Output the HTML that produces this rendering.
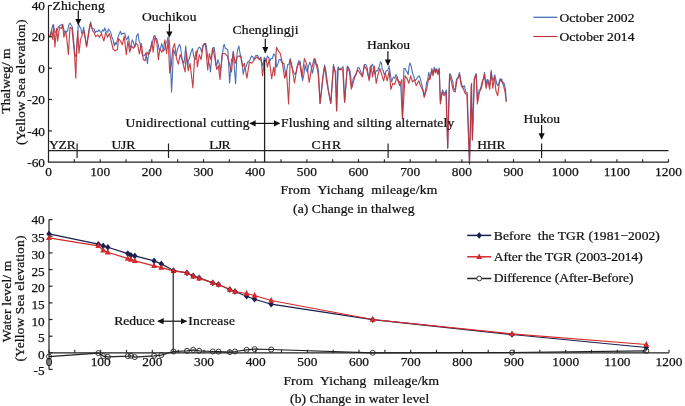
<!DOCTYPE html><html><head><meta charset="utf-8"><style>html,body{margin:0;padding:0;background:#fff;width:685px;height:406px;overflow:hidden}svg{display:block;will-change:transform}text{font-family:"Liberation Serif",serif;fill:#111;stroke:#111;stroke-width:0.25px;white-space:pre}</style></head><body>
<svg width="685" height="406" viewBox="0 0 685 406">
<defs><marker id="ah" viewBox="0 0 10 10" refX="9" refY="5" markerWidth="5.6" markerHeight="5.2" orient="auto-start-reverse"><path d="M0,0 L10,5 L0,10 z" fill="#111"/></marker></defs>
<polyline points="49.0,35.3 50.3,35.3 51.5,29.8 52.8,24.9 54.0,28.9 55.2,32.2 56.8,32.0 58.3,26.7 60.5,25.2 62.6,24.2 63.5,28.2 64.5,32.2 66.0,32.1 67.5,31.0 68.8,25.1 70.0,23.0 71.2,25.2 72.5,27.3 73.7,41.2 74.8,53.5 75.7,56.3 76.5,55.6 77.4,37.8 78.3,24.9 79.1,24.9 79.9,27.3 80.8,27.9 81.7,33.5 82.7,32.3 83.6,27.3 85.1,37.7 86.6,45.8 88.7,31.1 90.7,21.9 91.8,28.1 92.8,28.5 94.0,28.7 95.2,32.7 96.5,31.2 97.7,31.5 98.9,29.9 100.2,31.8 101.4,32.4 102.7,29.7 103.9,31.2 104.8,27.9 105.7,30.5 106.7,31.6 107.6,32.4 108.5,28.8 109.4,30.5 110.7,32.0 111.9,37.3 113.1,40.1 114.3,45.9 115.2,42.5 116.2,44.7 117.1,40.8 118.0,37.3 119.2,33.9 120.5,31.2 121.4,34.5 122.3,33.6 123.5,33.4 124.8,33.0 125.7,37.2 126.6,39.8 127.5,37.9 128.5,36.1 129.4,43.8 130.3,49.6 131.2,44.4 132.2,39.8 133.4,42.2 134.7,47.2 135.6,44.6 136.5,36.1 138.1,33.6 139.1,41.5 140.2,43.5 141.4,51.7 142.7,55.8 144.2,55.8 145.7,53.3 146.6,57.3 147.4,63.6 148.4,55.0 149.4,49.6 150.0,50.9 151.2,45.3 152.5,42.3 153.7,36.3 154.9,35.5 155.9,38.6 156.8,38.6 158.0,43.6 159.2,49.7 160.4,48.7 161.7,43.6 162.6,46.6 163.6,50.9 164.8,49.3 166.0,42.3 166.9,41.9 167.9,37.4 168.8,38.1 169.7,44.8 170.6,66.7 171.6,92.0 172.5,73.3 173.4,49.7 174.4,52.0 175.3,54.6 176.2,55.6 177.1,50.9 178.3,46.9 179.6,44.2 180.8,48.7 182.0,58.3 182.9,61.6 183.9,63.3 184.8,56.3 185.7,46.0 186.6,55.1 187.6,67.0 188.5,60.2 189.4,58.3 190.9,52.4 192.5,48.5 193.8,56.8 195.0,59.6 195.9,58.6 196.8,54.6 198.1,48.6 199.3,47.2 200.5,48.2 201.7,52.2 202.9,45.5 204.2,43.6 205.0,43.6 205.9,44.1 206.8,49.8 207.8,57.7 208.7,62.1 209.6,65.1 210.5,72.0 211.4,60.7 212.4,48.6 213.3,47.6 214.2,47.3 215.1,54.7 216.1,65.8 217.0,64.1 217.9,59.6 219.2,63.6 220.4,72.0 221.9,59.6 223.5,45.5 224.4,44.7 225.3,48.6 226.6,48.7 227.8,49.8 228.7,64.7 229.6,83.0 230.6,69.9 231.5,59.6 232.4,58.1 233.3,51.0 234.4,69.2 235.6,83.7 237.0,53.5 237.9,48.6 238.9,46.1 240.1,54.0 241.3,57.2 242.2,64.1 243.2,74.4 244.1,70.1 245.0,67.0 246.2,66.7 247.5,62.1 248.8,61.7 250.0,59.6 251.5,56.0 253.0,57.2 254.2,59.5 255.5,55.9 257.4,55.4 259.2,58.4 261.0,60.6 262.9,65.8 264.3,57.2 265.5,61.0 266.4,60.1 267.4,56.0 268.6,57.5 269.9,61.0 271.1,58.5 272.3,58.5 273.6,54.1 274.8,54.8 275.7,58.5 276.6,67.1 277.9,63.9 279.1,59.7 280.4,59.4 281.6,62.2 282.8,63.4 284.0,63.4 284.9,69.4 285.9,77.0 286.8,70.5 287.7,64.6 288.9,64.3 290.2,58.5 291.4,64.0 292.6,69.6 293.9,72.5 295.1,74.5 296.4,71.7 297.6,64.6 298.8,60.9 300.0,61.0 301.2,68.8 302.5,80.7 303.8,75.1 305.0,64.6 306.2,70.2 307.4,72.0 308.6,65.6 309.9,62.2 311.1,65.9 312.4,73.3 313.6,67.9 314.8,59.7 316.1,64.8 317.3,64.6 318.5,71.2 320.1,103.4 323.4,74.0 324.6,65.0 325.9,70.6 327.1,79.9 328.3,89.0 330.8,103.4 333.5,64.5 334.6,70.5 335.7,71.1 336.6,110.8 338.2,66.9 339.4,69.8 340.7,68.2 341.9,68.0 343.1,66.6 344.6,102.2 347.3,66.0 348.6,67.7 349.9,70.4 350.8,76.6 351.7,87.5 353.2,78.8 354.8,75.7 356.3,74.4 357.9,67.6 359.1,67.7 360.4,70.9 361.6,74.2 362.8,75.0 364.3,64.5 365.7,64.5 367.1,67.4 368.3,75.2 369.6,79.0 370.0,67.2 371.2,66.3 372.5,64.2 373.7,68.2 374.9,74.6 376.1,70.8 377.4,70.9 378.9,67.6 380.5,61.7 381.4,63.1 382.3,69.7 383.2,70.5 384.2,74.6 385.4,72.8 386.6,70.3 387.9,70.3 389.1,66.0 390.4,74.7 391.6,82.0 392.8,78.2 394.0,77.1 394.9,78.4 395.9,74.6 397.1,76.5 398.3,82.0 399.6,81.6 400.8,87.0 402.3,117.7 403.9,68.5 405.1,68.3 406.3,70.9 407.2,72.4 408.2,74.6 409.1,66.1 410.0,62.9 411.2,66.2 412.5,73.4 413.8,76.3 415.0,80.8 416.5,79.1 418.0,76.5 419.2,75.8 420.5,79.6 422.4,86.8 424.2,95.6 425.4,91.1 426.7,82.0 427.7,80.0 428.7,72.2 429.9,78.0 430.9,74.2 431.8,68.6 433.0,73.5 434.2,67.3 435.5,70.5 436.7,68.6 437.9,73.0 439.2,68.0 440.4,101.8 442.6,89.8 443.5,92.7 444.5,93.3 445.4,92.1 446.3,90.0 447.7,148.2 449.6,73.7 450.8,74.6 451.9,79.8 452.8,81.4 453.7,88.5 455.2,90.0 456.1,81.4 457.0,78.6 458.2,78.0 459.5,72.5 460.6,79.6 461.7,84.3 462.6,87.9 463.6,86.0 464.5,85.7 465.4,91.1 466.3,92.7 467.3,92.6 469.5,164.0 471.6,83.2 472.4,140.0 474.3,78.4 475.2,75.8 476.2,73.5 477.4,100.0 479.2,90.0 480.1,89.5 481.1,86.3 482.0,81.9 482.9,79.6 483.7,78.9 484.5,72.2 486.0,85.3 486.9,79.9 487.9,79.6 488.8,82.8 489.7,85.5 491.2,70.4 492.0,76.8 492.8,80.3 493.7,79.9 494.6,74.7 495.9,79.7 496.8,84.1 497.7,85.7 498.9,83.3 500.0,78.5 500.9,80.5 501.8,78.9 502.8,83.1 503.7,82.3 504.6,85.1 505.5,89.5 506.3,101.8" fill="none" stroke="#4a70b8" stroke-width="1.1" stroke-linejoin="round"/>
<polyline points="49.0,36.5 50.3,36.5 51.5,31.0 52.8,39.6 53.6,24.9 54.9,47.0 56.5,28.5 57.7,40.9 59.5,27.3 61.4,28.5 62.6,24.9 63.9,37.2 65.7,31.0 66.9,39.6 68.4,54.4 70.0,27.3 71.9,28.5 73.3,42.1 74.6,55.6 75.8,78.2 76.8,44.6 77.8,31.0 79.0,53.2 80.5,39.6 82.3,34.7 84.2,31.0 86.6,47.0 90.3,23.6 92.8,31.0 94.0,32.4 95.8,36.7 97.7,34.9 99.5,37.3 101.4,33.6 103.9,41.0 105.7,32.4 107.6,37.3 109.4,33.6 111.2,41.0 113.1,49.0 115.0,50.9 117.4,49.6 118.6,38.6 120.5,41.0 122.3,44.7 124.2,36.1 126.3,54.6 127.9,41.0 129.7,52.1 131.6,45.9 133.4,48.4 135.9,43.5 137.7,44.7 139.3,54.0 141.4,43.5 143.3,59.5 145.1,60.7 147.0,52.1 148.8,54.6 150.7,49.6 151.9,41.1 153.1,52.2 154.9,37.4 156.8,42.3 158.4,59.6 159.9,48.5 161.7,52.2 163.6,48.5 164.8,39.9 166.6,53.4 168.2,39.9 169.7,73.1 171.2,65.7 172.8,48.5 174.6,43.6 176.5,58.3 178.3,64.2 180.2,54.6 182.0,59.6 185.1,71.9 186.3,52.2 188.2,70.7 190.0,63.3 192.9,87.6 194.4,60.8 196.2,50.9 197.4,67.0 199.3,54.6 201.1,59.6 203.0,46.0 205.4,43.6 207.7,70.0 209.3,53.5 210.9,59.6 213.0,48.6 214.9,58.4 216.7,69.5 218.3,65.8 220.0,79.4 222.2,53.5 224.7,53.5 227.2,55.9 229.0,62.1 231.5,72.0 233.3,52.2 235.2,63.3 237.0,57.2 238.9,55.9 240.7,56.6 242.6,67.0 244.4,63.3 246.9,78.1 249.4,62.1 251.8,63.3 254.3,59.6 256.7,57.2 259.2,59.6 261.1,57.2 262.5,75.7 264.3,62.2 266.2,58.5 267.4,67.1 269.2,59.7 271.7,78.7 273.6,67.1 274.8,75.7 276.4,47.4 278.5,51.1 280.3,53.6 282.2,62.2 284.6,78.2 286.5,70.8 288.6,103.9 290.2,59.7 292.0,67.1 294.5,83.0 297.0,67.1 299.4,62.2 301.9,77.0 304.4,58.5 306.8,64.6 309.2,82.4 311.1,70.8 314.2,58.5 315.5,60.0 316.8,67.2 318.1,73.3 320.1,103.4 323.0,75.8 324.6,66.6 326.7,82.0 328.3,91.0 330.8,103.4 333.5,65.9 335.3,73.3 336.6,110.8 337.8,68.4 340.3,69.6 342.7,69.0 344.6,102.2 347.3,67.2 349.5,72.1 351.3,89.2 354.4,78.3 357.5,69.6 360.0,73.3 362.4,77.0 364.3,65.9 366.7,69.6 369.2,80.6 371.1,65.9 372.5,77.1 374.3,66.0 376.2,83.3 378.0,74.6 379.9,68.5 381.7,74.6 383.6,80.8 385.4,73.4 387.2,80.8 389.1,70.9 390.9,89.4 392.8,83.3 394.6,84.5 397.1,77.1 399.6,85.7 401.8,79.6 402.6,117.7 405.1,75.9 407.0,78.3 408.8,83.3 410.7,75.9 412.5,82.0 414.4,79.6 416.2,85.7 418.7,80.8 420.5,85.7 423.0,90.7 424.2,97.4 426.7,89.4 428.7,78.0 429.9,79.6 431.8,70.0 433.0,76.0 434.2,69.0 435.5,73.0 436.7,70.0 437.9,74.5 439.2,69.5 440.4,103.9 442.2,92.0 444.1,95.7 445.9,92.0 447.7,148.2 449.6,74.7 451.5,82.1 453.3,90.7 455.2,92.0 457.0,79.6 459.5,74.5 461.3,85.8 463.2,88.3 465.0,93.2 466.9,94.4 469.5,164.0 471.2,84.6 472.4,140.0 474.3,79.6 476.1,74.5 477.4,104.0 479.5,92.0 481.4,88.3 482.9,80.6 484.5,74.2 486.0,88.3 487.9,80.6 489.7,89.5 491.2,72.4 492.8,88.3 494.6,76.7 495.9,90.7 497.7,95.7 499.6,80.9 501.4,80.9 503.3,84.6 505.1,92.0 506.3,101.8" fill="none" stroke="#c23238" stroke-width="1.15" stroke-linejoin="round" stroke-opacity="0.92"/>
<path d="M48.5,5.5 V162.2 H668.5" fill="none" stroke="#222" stroke-width="1.2"/>
<line x1="48.5" y1="5.5" x2="52.0" y2="5.5" stroke="#222" stroke-width="1.2"/>
<text transform="translate(45.0,10.1)" font-size="13.3" text-anchor="end">40</text>
<line x1="48.5" y1="36.8" x2="52.0" y2="36.8" stroke="#222" stroke-width="1.2"/>
<text transform="translate(45.0,41.4)" font-size="13.3" text-anchor="end">20</text>
<line x1="48.5" y1="68.2" x2="52.0" y2="68.2" stroke="#222" stroke-width="1.2"/>
<text transform="translate(45.0,72.8)" font-size="13.3" text-anchor="end">0</text>
<line x1="48.5" y1="99.5" x2="52.0" y2="99.5" stroke="#222" stroke-width="1.2"/>
<text transform="translate(45.0,104.1)" font-size="13.3" text-anchor="end">-20</text>
<line x1="48.5" y1="130.9" x2="52.0" y2="130.9" stroke="#222" stroke-width="1.2"/>
<text transform="translate(45.0,135.5)" font-size="13.3" text-anchor="end">-40</text>
<text transform="translate(45.0,166.8)" font-size="13.3" text-anchor="end">-60</text>
<line x1="48.5" y1="162.2" x2="48.5" y2="159.2" stroke="#222" stroke-width="1.1"/>
<line x1="74.3" y1="162.2" x2="74.3" y2="159.2" stroke="#222" stroke-width="1.1"/>
<line x1="100.2" y1="162.2" x2="100.2" y2="159.2" stroke="#222" stroke-width="1.1"/>
<line x1="126.0" y1="162.2" x2="126.0" y2="159.2" stroke="#222" stroke-width="1.1"/>
<line x1="151.8" y1="162.2" x2="151.8" y2="159.2" stroke="#222" stroke-width="1.1"/>
<line x1="177.7" y1="162.2" x2="177.7" y2="159.2" stroke="#222" stroke-width="1.1"/>
<line x1="203.5" y1="162.2" x2="203.5" y2="159.2" stroke="#222" stroke-width="1.1"/>
<line x1="229.3" y1="162.2" x2="229.3" y2="159.2" stroke="#222" stroke-width="1.1"/>
<line x1="255.2" y1="162.2" x2="255.2" y2="159.2" stroke="#222" stroke-width="1.1"/>
<line x1="281.0" y1="162.2" x2="281.0" y2="159.2" stroke="#222" stroke-width="1.1"/>
<line x1="306.9" y1="162.2" x2="306.9" y2="159.2" stroke="#222" stroke-width="1.1"/>
<line x1="332.7" y1="162.2" x2="332.7" y2="159.2" stroke="#222" stroke-width="1.1"/>
<line x1="358.5" y1="162.2" x2="358.5" y2="159.2" stroke="#222" stroke-width="1.1"/>
<line x1="384.4" y1="162.2" x2="384.4" y2="159.2" stroke="#222" stroke-width="1.1"/>
<line x1="410.2" y1="162.2" x2="410.2" y2="159.2" stroke="#222" stroke-width="1.1"/>
<line x1="436.0" y1="162.2" x2="436.0" y2="159.2" stroke="#222" stroke-width="1.1"/>
<line x1="461.9" y1="162.2" x2="461.9" y2="159.2" stroke="#222" stroke-width="1.1"/>
<line x1="487.7" y1="162.2" x2="487.7" y2="159.2" stroke="#222" stroke-width="1.1"/>
<line x1="513.5" y1="162.2" x2="513.5" y2="159.2" stroke="#222" stroke-width="1.1"/>
<line x1="539.4" y1="162.2" x2="539.4" y2="159.2" stroke="#222" stroke-width="1.1"/>
<line x1="565.2" y1="162.2" x2="565.2" y2="159.2" stroke="#222" stroke-width="1.1"/>
<line x1="591.0" y1="162.2" x2="591.0" y2="159.2" stroke="#222" stroke-width="1.1"/>
<line x1="616.9" y1="162.2" x2="616.9" y2="159.2" stroke="#222" stroke-width="1.1"/>
<line x1="642.7" y1="162.2" x2="642.7" y2="159.2" stroke="#222" stroke-width="1.1"/>
<line x1="668.5" y1="162.2" x2="668.5" y2="159.2" stroke="#222" stroke-width="1.1"/>
<text transform="translate(48.5,175.5)" font-size="13.4" text-anchor="middle">0</text>
<text transform="translate(100.2,175.5)" font-size="13.4" text-anchor="middle">100</text>
<text transform="translate(151.8,175.5)" font-size="13.4" text-anchor="middle">200</text>
<text transform="translate(203.5,175.5)" font-size="13.4" text-anchor="middle">300</text>
<text transform="translate(255.2,175.5)" font-size="13.4" text-anchor="middle">400</text>
<text transform="translate(306.9,175.5)" font-size="13.4" text-anchor="middle">500</text>
<text transform="translate(358.5,175.5)" font-size="13.4" text-anchor="middle">600</text>
<text transform="translate(410.2,175.5)" font-size="13.4" text-anchor="middle">700</text>
<text transform="translate(461.9,175.5)" font-size="13.4" text-anchor="middle">800</text>
<text transform="translate(513.5,175.5)" font-size="13.4" text-anchor="middle">900</text>
<text transform="translate(565.2,175.5)" font-size="13.4" text-anchor="middle">1000</text>
<text transform="translate(616.9,175.5)" font-size="13.4" text-anchor="middle">1100</text>
<text transform="translate(668.5,175.5)" font-size="13.4" text-anchor="middle">1200</text>
<line x1="48.5" y1="150.7" x2="668.5" y2="150.7" stroke="#222" stroke-width="1.2"/>
<line x1="77.1" y1="143.5" x2="77.1" y2="158" stroke="#222" stroke-width="1.2"/>
<line x1="168.5" y1="143.5" x2="168.5" y2="158" stroke="#222" stroke-width="1.2"/>
<line x1="388.1" y1="143.5" x2="388.1" y2="158" stroke="#222" stroke-width="1.2"/>
<line x1="541.6" y1="143.5" x2="541.6" y2="158" stroke="#222" stroke-width="1.2"/>
<line x1="264.6" y1="60" x2="264.6" y2="162.2" stroke="#222" stroke-width="1.3"/>
<text transform="translate(49,148.9) scale(1.045,1)" font-size="13.0" textLength="25.6" lengthAdjust="spacing">YZR</text>
<text transform="translate(111.4,148.9) scale(1.045,1)" font-size="13.0" textLength="22.9" lengthAdjust="spacing">UJR</text>
<text transform="translate(209.2,148.9) scale(1.045,1)" font-size="13.0" textLength="20.5" lengthAdjust="spacing">LJR</text>
<text transform="translate(311.5,148.9) scale(1.045,1)" font-size="13.0" textLength="28.3" lengthAdjust="spacing">CHR</text>
<text transform="translate(477.2,148.9) scale(1.045,1)" font-size="13.0" textLength="27.1" lengthAdjust="spacing">HHR</text>
<text transform="translate(125.5,126.5) scale(1.045,1)" font-size="13.0" textLength="118.6" lengthAdjust="spacing">Unidirectional cutting</text>
<line x1="250" y1="123.4" x2="279.5" y2="123.4" stroke="#111" stroke-width="1.2" marker-start="url(#ah)" marker-end="url(#ah)"/>
<text transform="translate(281.1,127.2) scale(1.045,1)" font-size="13.0" textLength="165.7" lengthAdjust="spacing">Flushing and silting alternately</text>
<text transform="translate(52.5,9.7) scale(1.045,1)" font-size="13.0" textLength="50.0" lengthAdjust="spacing">Zhicheng</text>
<line x1="78.3" y1="10.5" x2="78.3" y2="24.5" stroke="#111" stroke-width="1.2" marker-end="url(#ah)"/>
<text transform="translate(141.9,21.0) scale(1.045,1)" font-size="13.0" textLength="52.3" lengthAdjust="spacing">Ouchikou</text>
<line x1="169.4" y1="23.7" x2="169.4" y2="37.1" stroke="#111" stroke-width="1.2" marker-end="url(#ah)"/>
<text transform="translate(232.4,33.9) scale(1.045,1)" font-size="13.0" textLength="63.3" lengthAdjust="spacing">Chenglingji</text>
<line x1="265.3" y1="38.7" x2="265.3" y2="52.7" stroke="#111" stroke-width="1.2" marker-end="url(#ah)"/>
<text transform="translate(367,49.3) scale(1.045,1)" font-size="13.0" textLength="41.2" lengthAdjust="spacing">Hankou</text>
<line x1="387.9" y1="51.2" x2="387.9" y2="65.1" stroke="#111" stroke-width="1.2" marker-end="url(#ah)"/>
<text transform="translate(523.5,122.6) scale(1.045,1)" font-size="13.0" textLength="35.0" lengthAdjust="spacing">Hukou</text>
<line x1="541.6" y1="125" x2="541.6" y2="138.9" stroke="#111" stroke-width="1.2" marker-end="url(#ah)"/>
<line x1="533.4" y1="17.3" x2="557.4" y2="17.3" stroke="#4a70b8" stroke-width="1.3"/>
<text transform="translate(559.5,21.6) scale(1.045,1)" font-size="13.0" textLength="71.7" lengthAdjust="spacing">October 2002</text>
<line x1="533.4" y1="36.5" x2="557.4" y2="36.5" stroke="#c23238" stroke-width="1.15"/>
<text transform="translate(559.5,40.6) scale(1.045,1)" font-size="13.0" textLength="71.7" lengthAdjust="spacing">October 2014</text>
<text transform="translate(280.5,193.9) scale(1.045,1)" font-size="13.0" textLength="150.0" lengthAdjust="spacing">From  Yichang  mileage/km</text>
<text transform="translate(293.1,213.1) scale(1.045,1)" font-size="13.0" textLength="116.1" lengthAdjust="spacing">(a) Change in thalweg</text>
<text transform="translate(10.2,113.5) rotate(-90) scale(1.045,1)" x="0" y="0" font-size="13.0" textLength="62.3" lengthAdjust="spacing">Thalweg/ m</text>
<text transform="translate(24.6,145) rotate(-90) scale(1.045,1)" x="0" y="0" font-size="13.0" textLength="120.1" lengthAdjust="spacing">(Yellow Sea elevation)</text>
<path d="M49.0,219.6 V369.4" fill="none" stroke="#222" stroke-width="1.2"/>
<line x1="49.0" y1="352.8" x2="669.0" y2="352.8" stroke="#222" stroke-width="1.2"/>
<line x1="49.0" y1="369.4" x2="52.5" y2="369.4" stroke="#222" stroke-width="1.2"/>
<text transform="translate(44.7,375.4)" font-size="13.3" text-anchor="end">-5</text>
<line x1="49.0" y1="352.8" x2="52.5" y2="352.8" stroke="#222" stroke-width="1.2"/>
<text transform="translate(44.7,358.8)" font-size="13.3" text-anchor="end">0</text>
<line x1="49.0" y1="336.2" x2="52.5" y2="336.2" stroke="#222" stroke-width="1.2"/>
<text transform="translate(44.7,342.2)" font-size="13.3" text-anchor="end">5</text>
<line x1="49.0" y1="319.5" x2="52.5" y2="319.5" stroke="#222" stroke-width="1.2"/>
<text transform="translate(44.7,325.5)" font-size="13.3" text-anchor="end">10</text>
<line x1="49.0" y1="302.9" x2="52.5" y2="302.9" stroke="#222" stroke-width="1.2"/>
<text transform="translate(44.7,308.9)" font-size="13.3" text-anchor="end">15</text>
<line x1="49.0" y1="286.2" x2="52.5" y2="286.2" stroke="#222" stroke-width="1.2"/>
<text transform="translate(44.7,292.2)" font-size="13.3" text-anchor="end">20</text>
<line x1="49.0" y1="269.6" x2="52.5" y2="269.6" stroke="#222" stroke-width="1.2"/>
<text transform="translate(44.7,275.6)" font-size="13.3" text-anchor="end">25</text>
<line x1="49.0" y1="252.9" x2="52.5" y2="252.9" stroke="#222" stroke-width="1.2"/>
<text transform="translate(44.7,258.9)" font-size="13.3" text-anchor="end">30</text>
<line x1="49.0" y1="236.2" x2="52.5" y2="236.2" stroke="#222" stroke-width="1.2"/>
<text transform="translate(44.7,242.2)" font-size="13.3" text-anchor="end">35</text>
<line x1="49.0" y1="219.6" x2="52.5" y2="219.6" stroke="#222" stroke-width="1.2"/>
<text transform="translate(44.7,224.2)" font-size="13.3" text-anchor="end">40</text>
<line x1="49.0" y1="352.8" x2="49.0" y2="349.8" stroke="#222" stroke-width="1.1"/>
<line x1="74.8" y1="352.8" x2="74.8" y2="349.8" stroke="#222" stroke-width="1.1"/>
<line x1="100.7" y1="352.8" x2="100.7" y2="349.8" stroke="#222" stroke-width="1.1"/>
<line x1="126.5" y1="352.8" x2="126.5" y2="349.8" stroke="#222" stroke-width="1.1"/>
<line x1="152.3" y1="352.8" x2="152.3" y2="349.8" stroke="#222" stroke-width="1.1"/>
<line x1="178.2" y1="352.8" x2="178.2" y2="349.8" stroke="#222" stroke-width="1.1"/>
<line x1="204.0" y1="352.8" x2="204.0" y2="349.8" stroke="#222" stroke-width="1.1"/>
<line x1="229.8" y1="352.8" x2="229.8" y2="349.8" stroke="#222" stroke-width="1.1"/>
<line x1="255.7" y1="352.8" x2="255.7" y2="349.8" stroke="#222" stroke-width="1.1"/>
<line x1="281.5" y1="352.8" x2="281.5" y2="349.8" stroke="#222" stroke-width="1.1"/>
<line x1="307.4" y1="352.8" x2="307.4" y2="349.8" stroke="#222" stroke-width="1.1"/>
<line x1="333.2" y1="352.8" x2="333.2" y2="349.8" stroke="#222" stroke-width="1.1"/>
<line x1="359.0" y1="352.8" x2="359.0" y2="349.8" stroke="#222" stroke-width="1.1"/>
<line x1="384.9" y1="352.8" x2="384.9" y2="349.8" stroke="#222" stroke-width="1.1"/>
<line x1="410.7" y1="352.8" x2="410.7" y2="349.8" stroke="#222" stroke-width="1.1"/>
<line x1="436.5" y1="352.8" x2="436.5" y2="349.8" stroke="#222" stroke-width="1.1"/>
<line x1="462.4" y1="352.8" x2="462.4" y2="349.8" stroke="#222" stroke-width="1.1"/>
<line x1="488.2" y1="352.8" x2="488.2" y2="349.8" stroke="#222" stroke-width="1.1"/>
<line x1="514.0" y1="352.8" x2="514.0" y2="349.8" stroke="#222" stroke-width="1.1"/>
<line x1="539.9" y1="352.8" x2="539.9" y2="349.8" stroke="#222" stroke-width="1.1"/>
<line x1="565.7" y1="352.8" x2="565.7" y2="349.8" stroke="#222" stroke-width="1.1"/>
<line x1="591.5" y1="352.8" x2="591.5" y2="349.8" stroke="#222" stroke-width="1.1"/>
<line x1="617.4" y1="352.8" x2="617.4" y2="349.8" stroke="#222" stroke-width="1.1"/>
<line x1="643.2" y1="352.8" x2="643.2" y2="349.8" stroke="#222" stroke-width="1.1"/>
<line x1="669.0" y1="352.8" x2="669.0" y2="349.8" stroke="#222" stroke-width="1.1"/>
<text transform="translate(49.0,365.8)" font-size="13.4" text-anchor="middle">0</text>
<text transform="translate(100.7,365.8)" font-size="13.4" text-anchor="middle">100</text>
<text transform="translate(152.3,365.8)" font-size="13.4" text-anchor="middle">200</text>
<text transform="translate(204.0,365.8)" font-size="13.4" text-anchor="middle">300</text>
<text transform="translate(255.7,365.8)" font-size="13.4" text-anchor="middle">400</text>
<text transform="translate(307.4,365.8)" font-size="13.4" text-anchor="middle">500</text>
<text transform="translate(359.0,365.8)" font-size="13.4" text-anchor="middle">600</text>
<text transform="translate(410.7,365.8)" font-size="13.4" text-anchor="middle">700</text>
<text transform="translate(462.4,365.8)" font-size="13.4" text-anchor="middle">800</text>
<text transform="translate(514.0,365.8)" font-size="13.4" text-anchor="middle">900</text>
<text transform="translate(565.7,365.8)" font-size="13.4" text-anchor="middle">1000</text>
<text transform="translate(617.4,365.8)" font-size="13.4" text-anchor="middle">1100</text>
<text transform="translate(669.0,365.8)" font-size="13.4" text-anchor="middle">1200</text>
<polyline points="49.0,233.9 98.3,244.2 103.2,245.9 107.8,247.2 127.8,253.6 130.9,255.2 134.8,255.9 154.1,260.9 161.3,263.9 173.5,270.5 187.0,272.9 193.2,275.9 199.2,277.9 212.8,282.9 218.5,284.5 229.8,289.5 235.0,291.5 246.6,296.2 254.6,299.2 271.2,304.2 372.7,319.7 512.0,334.5 646.3,347.5" fill="none" stroke="#1a1f4e" stroke-width="1.2"/>
<polyline points="49.0,237.9 98.3,245.9 103.2,250.2 107.8,252.2 127.8,258.6 130.9,259.6 134.8,260.9 154.1,265.9 161.3,267.6 173.5,270.9 187.0,272.9 193.2,276.2 199.2,278.2 212.8,282.9 218.5,284.5 229.8,289.5 235.0,291.5 246.6,293.5 254.6,295.5 271.2,300.5 372.7,319.5 512.0,333.8 646.3,344.5" fill="none" stroke="#d42a2a" stroke-width="1.2"/>
<polyline points="49.0,356.6 98.3,353.1 103.2,356.1 107.8,356.8 127.8,356.1 130.9,355.8 134.8,357.1 154.1,355.8 161.3,355.1 173.5,351.5 187.0,350.8 193.2,349.8 199.2,350.8 212.8,351.5 218.5,351.6 229.8,352.1 235.0,351.5 246.6,349.8 254.6,349.1 271.2,349.5 372.7,352.8 512.0,352.5 646.3,350.8" fill="none" stroke="#222" stroke-width="1.2"/>
<path d="M49.0,230.6 L51.7,233.9 L49.0,237.2 L46.3,233.9z" fill="#1a1f4e"/>
<path d="M98.3,240.9 L101.0,244.2 L98.3,247.5 L95.6,244.2z" fill="#1a1f4e"/>
<path d="M103.2,242.6 L105.9,245.9 L103.2,249.2 L100.5,245.9z" fill="#1a1f4e"/>
<path d="M107.8,243.9 L110.5,247.2 L107.8,250.5 L105.1,247.2z" fill="#1a1f4e"/>
<path d="M127.8,250.3 L130.5,253.6 L127.8,256.9 L125.1,253.6z" fill="#1a1f4e"/>
<path d="M130.9,251.9 L133.6,255.2 L130.9,258.5 L128.2,255.2z" fill="#1a1f4e"/>
<path d="M134.8,252.6 L137.5,255.9 L134.8,259.2 L132.1,255.9z" fill="#1a1f4e"/>
<path d="M154.1,257.6 L156.8,260.9 L154.1,264.2 L151.4,260.9z" fill="#1a1f4e"/>
<path d="M161.3,260.6 L164.0,263.9 L161.3,267.2 L158.6,263.9z" fill="#1a1f4e"/>
<path d="M173.5,267.2 L176.2,270.5 L173.5,273.8 L170.8,270.5z" fill="#1a1f4e"/>
<path d="M187.0,269.6 L189.7,272.9 L187.0,276.2 L184.3,272.9z" fill="#1a1f4e"/>
<path d="M193.2,272.6 L195.9,275.9 L193.2,279.2 L190.5,275.9z" fill="#1a1f4e"/>
<path d="M199.2,274.6 L201.9,277.9 L199.2,281.2 L196.5,277.9z" fill="#1a1f4e"/>
<path d="M212.8,279.6 L215.5,282.9 L212.8,286.2 L210.1,282.9z" fill="#1a1f4e"/>
<path d="M218.5,281.2 L221.2,284.5 L218.5,287.8 L215.8,284.5z" fill="#1a1f4e"/>
<path d="M229.8,286.2 L232.5,289.5 L229.8,292.8 L227.1,289.5z" fill="#1a1f4e"/>
<path d="M235.0,288.2 L237.7,291.5 L235.0,294.8 L232.3,291.5z" fill="#1a1f4e"/>
<path d="M246.6,292.9 L249.3,296.2 L246.6,299.5 L243.9,296.2z" fill="#1a1f4e"/>
<path d="M254.6,295.9 L257.3,299.2 L254.6,302.5 L251.9,299.2z" fill="#1a1f4e"/>
<path d="M271.2,300.9 L273.9,304.2 L271.2,307.5 L268.5,304.2z" fill="#1a1f4e"/>
<path d="M372.7,316.4 L375.4,319.7 L372.7,323.0 L370.0,319.7z" fill="#1a1f4e"/>
<path d="M512.0,331.2 L514.7,334.5 L512.0,337.8 L509.3,334.5z" fill="#1a1f4e"/>
<path d="M646.3,344.2 L649.0,347.5 L646.3,350.8 L643.6,347.5z" fill="#1a1f4e"/>
<path d="M49.0,234.5 L52.0,240.1 L46.0,240.1z" fill="#d42a2a"/>
<path d="M98.3,242.5 L101.3,248.1 L95.3,248.1z" fill="#d42a2a"/>
<path d="M103.2,246.8 L106.2,252.4 L100.2,252.4z" fill="#d42a2a"/>
<path d="M107.8,248.8 L110.8,254.4 L104.8,254.4z" fill="#d42a2a"/>
<path d="M127.8,255.2 L130.8,260.8 L124.8,260.8z" fill="#d42a2a"/>
<path d="M130.9,256.2 L133.9,261.8 L127.9,261.8z" fill="#d42a2a"/>
<path d="M134.8,257.5 L137.8,263.1 L131.8,263.1z" fill="#d42a2a"/>
<path d="M154.1,262.5 L157.1,268.1 L151.1,268.1z" fill="#d42a2a"/>
<path d="M161.3,264.2 L164.3,269.8 L158.3,269.8z" fill="#d42a2a"/>
<path d="M173.5,267.5 L176.5,273.1 L170.5,273.1z" fill="#d42a2a"/>
<path d="M187.0,269.5 L190.0,275.1 L184.0,275.1z" fill="#d42a2a"/>
<path d="M193.2,272.8 L196.2,278.4 L190.2,278.4z" fill="#d42a2a"/>
<path d="M199.2,274.8 L202.2,280.4 L196.2,280.4z" fill="#d42a2a"/>
<path d="M212.8,279.5 L215.8,285.1 L209.8,285.1z" fill="#d42a2a"/>
<path d="M218.5,281.1 L221.5,286.7 L215.5,286.7z" fill="#d42a2a"/>
<path d="M229.8,286.1 L232.8,291.7 L226.8,291.7z" fill="#d42a2a"/>
<path d="M235.0,288.1 L238.0,293.7 L232.0,293.7z" fill="#d42a2a"/>
<path d="M246.6,290.1 L249.6,295.7 L243.6,295.7z" fill="#d42a2a"/>
<path d="M254.6,292.1 L257.6,297.7 L251.6,297.7z" fill="#d42a2a"/>
<path d="M271.2,297.1 L274.2,302.7 L268.2,302.7z" fill="#d42a2a"/>
<path d="M372.7,316.1 L375.7,321.7 L369.7,321.7z" fill="#d42a2a"/>
<path d="M512.0,330.4 L515.0,336.0 L509.0,336.0z" fill="#d42a2a"/>
<path d="M646.3,341.1 L649.3,346.7 L643.3,346.7z" fill="#d42a2a"/>
<circle cx="49.0" cy="356.6" r="2.5" fill="none" stroke="#222" stroke-width="0.9"/>
<circle cx="98.3" cy="353.1" r="2.5" fill="none" stroke="#222" stroke-width="0.9"/>
<circle cx="103.2" cy="356.1" r="2.5" fill="none" stroke="#222" stroke-width="0.9"/>
<circle cx="107.8" cy="356.8" r="2.5" fill="none" stroke="#222" stroke-width="0.9"/>
<circle cx="127.8" cy="356.1" r="2.5" fill="none" stroke="#222" stroke-width="0.9"/>
<circle cx="130.9" cy="355.8" r="2.5" fill="none" stroke="#222" stroke-width="0.9"/>
<circle cx="134.8" cy="357.1" r="2.5" fill="none" stroke="#222" stroke-width="0.9"/>
<circle cx="154.1" cy="355.8" r="2.5" fill="none" stroke="#222" stroke-width="0.9"/>
<circle cx="161.3" cy="355.1" r="2.5" fill="none" stroke="#222" stroke-width="0.9"/>
<circle cx="173.5" cy="351.5" r="2.5" fill="none" stroke="#222" stroke-width="0.9"/>
<circle cx="187.0" cy="350.8" r="2.5" fill="none" stroke="#222" stroke-width="0.9"/>
<circle cx="193.2" cy="349.8" r="2.5" fill="none" stroke="#222" stroke-width="0.9"/>
<circle cx="199.2" cy="350.8" r="2.5" fill="none" stroke="#222" stroke-width="0.9"/>
<circle cx="212.8" cy="351.5" r="2.5" fill="none" stroke="#222" stroke-width="0.9"/>
<circle cx="218.5" cy="351.6" r="2.5" fill="none" stroke="#222" stroke-width="0.9"/>
<circle cx="229.8" cy="352.1" r="2.5" fill="none" stroke="#222" stroke-width="0.9"/>
<circle cx="235.0" cy="351.5" r="2.5" fill="none" stroke="#222" stroke-width="0.9"/>
<circle cx="246.6" cy="349.8" r="2.5" fill="none" stroke="#222" stroke-width="0.9"/>
<circle cx="254.6" cy="349.1" r="2.5" fill="none" stroke="#222" stroke-width="0.9"/>
<circle cx="271.2" cy="349.5" r="2.5" fill="none" stroke="#222" stroke-width="0.9"/>
<circle cx="372.7" cy="352.8" r="2.5" fill="none" stroke="#222" stroke-width="0.9"/>
<circle cx="512.0" cy="352.5" r="2.5" fill="none" stroke="#222" stroke-width="0.9"/>
<circle cx="646.3" cy="350.8" r="2.5" fill="none" stroke="#222" stroke-width="0.9"/>
<line x1="173.2" y1="270.9" x2="173.2" y2="352.8" stroke="#222" stroke-width="1.2"/>
<text transform="translate(114.2,325.2) scale(1.045,1)" font-size="13.0" textLength="38.8" lengthAdjust="spacing">Reduce</text>
<line x1="158" y1="321.2" x2="186.5" y2="321.2" stroke="#111" stroke-width="1.2" marker-start="url(#ah)" marker-end="url(#ah)"/>
<text transform="translate(188.2,325.2) scale(1.045,1)" font-size="13.0" textLength="44.9" lengthAdjust="spacing">Increase</text>
<line x1="467.2" y1="235.4" x2="491.2" y2="235.4" stroke="#1a1f4e" stroke-width="1.5"/>
<path d="M479.2,232.1 L481.9,235.4 L479.2,238.7 L476.5,235.4z" fill="#1a1f4e"/>
<text transform="translate(493.8,239.7) scale(1.045,1)" font-size="13.0" textLength="158.9" lengthAdjust="spacing">Before  the TGR (1981−2002)</text>
<line x1="467.2" y1="256.8" x2="491.2" y2="256.8" stroke="#d42a2a" stroke-width="1.5"/>
<path d="M479.2,253.4 L482.2,259 L476.2,259z" fill="#d42a2a"/>
<text transform="translate(493.8,261) scale(1.045,1)" font-size="13.0" textLength="142.5" lengthAdjust="spacing">After the TGR (2003-2014)</text>
<line x1="467.2" y1="278.5" x2="491.2" y2="278.5" stroke="#222" stroke-width="1.5"/>
<circle cx="479.2" cy="278.5" r="2.4" fill="#fff" stroke="#222" stroke-width="0.9"/>
<text transform="translate(493.8,282.4) scale(1.045,1)" font-size="13.0" textLength="133.7" lengthAdjust="spacing">Difference (After-Before)</text>
<text transform="translate(283.4,385.1) scale(1.045,1)" font-size="13.0" textLength="149.0" lengthAdjust="spacing">From  Yichang  mileage/km</text>
<text transform="translate(290.1,402.6) scale(1.045,1)" font-size="13.0" textLength="133.1" lengthAdjust="spacing">(b) Change in water level</text>
<text transform="translate(11.3,342.2) rotate(-90) scale(1.045,1)" x="0" y="0" font-size="13.0" textLength="78.1" lengthAdjust="spacing">Water level/ m</text>
<text transform="translate(24.3,361.5) rotate(-90) scale(1.045,1)" x="0" y="0" font-size="13.0" textLength="120.5" lengthAdjust="spacing">(Yellow Sea elevation)</text>
</svg></body></html>
